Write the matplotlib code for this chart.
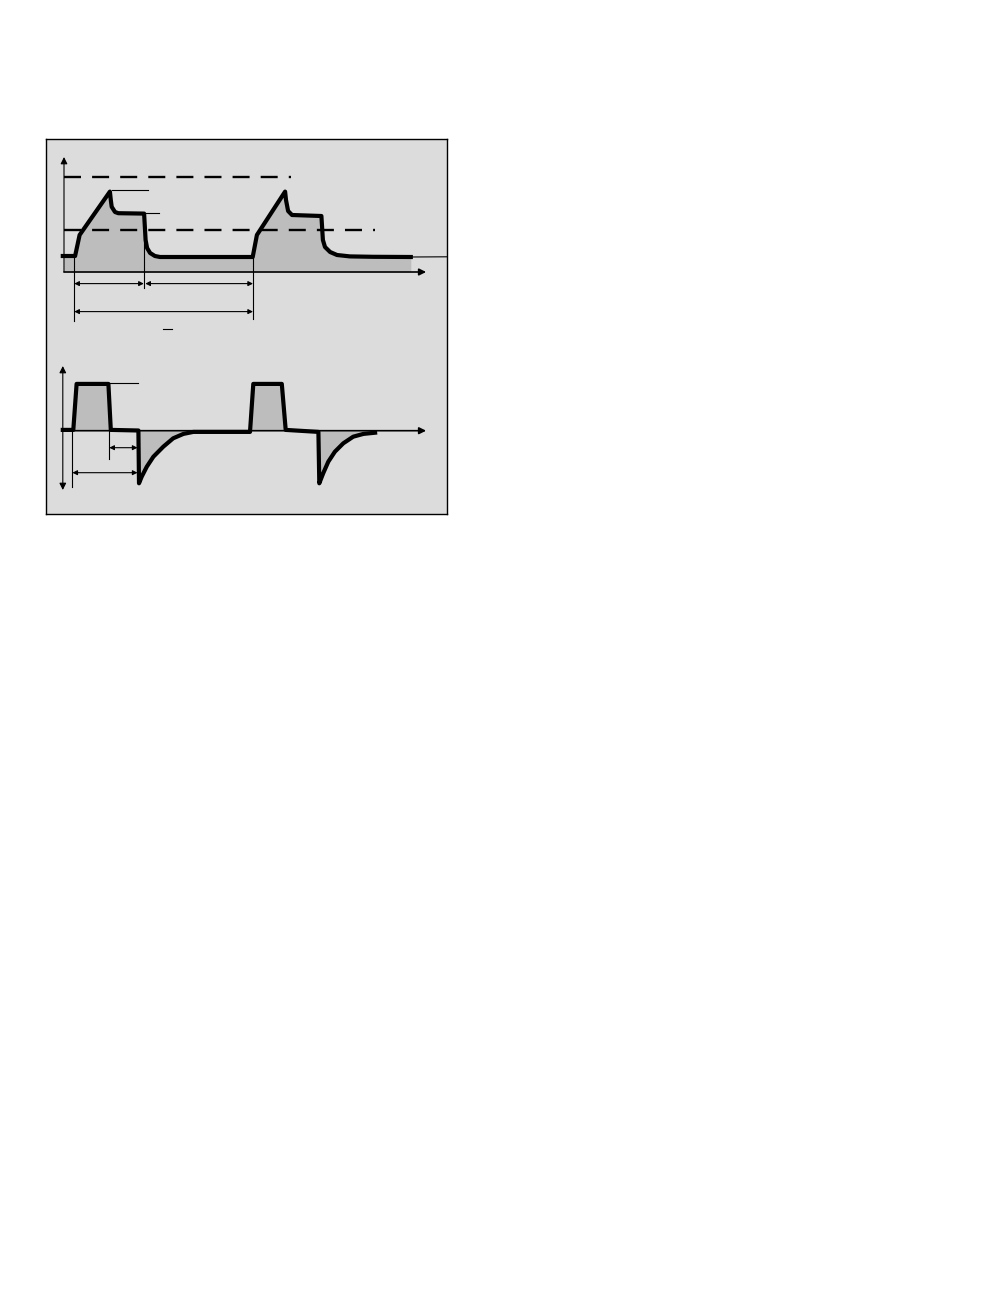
import matplotlib
matplotlib.use("Agg")
import matplotlib.pyplot as plt

# --- curva de presion (tiempo, presion) ---
t_pres = [-0.04, 0.37, 0.52, 1.53, 1.56, 1.59, 1.70, 1.81, 2.67, 2.72, 2.77, 2.87, 3.03, 3.20,
          6.29, 6.43, 7.37, 7.40, 7.47, 7.60, 8.58, 8.63, 8.70, 8.87, 9.10, 9.53, 10.30, 11.56]
p_pres = [4.0, 4.0, 9.25, 20.1, 18.0, 16.3, 15.0, 14.7, 14.6, 8.0, 6.0, 4.75, 4.0, 3.75,
          3.75, 9.25, 20.1, 18.0, 15.25, 14.25, 14.0, 8.0, 6.25, 5.0, 4.25, 3.9, 3.8, 3.75]

# --- curva de flujo (tiempo, flujo) ---
t_flujo = [-0.04, 0.31, 0.42, 1.48, 1.56, 2.48, 2.50, 2.59, 2.76, 2.98, 3.31, 3.64, 3.98, 4.31,
           6.20, 6.31, 7.26, 7.39, 8.48, 8.51, 8.64, 8.81, 9.03, 9.31, 9.64, 9.98, 10.37]
f_flujo = [0.2, 0.2, 11.7, 11.7, 0.2, 0.05, -13.15, -11.5, -9.0, -6.5, -4.0, -1.9, -0.8, -0.3,
           -0.3, 11.7, 11.7, 0.2, -0.3, -13.15, -10.65, -7.75, -5.25, -3.15, -1.5, -0.8, -0.5]

# lineas de referencia (presion)
p_alta = 23.75
p_baja = 10.6
t_fin_alta = 7.57
t_fin_baja = 10.37

GRIS_FONDO = '#dcdcdc'
GRIS_AREA = '#bdbdbd'

W, H = 1008, 1296
fig = plt.figure(figsize=(W / 100, H / 100), dpi=100)

def rect(x0, y0, x1, y1):
    # pixeles -> coordenadas de figura
    return [x0 / W, 1 - y1 / H, (x1 - x0) / W, (y1 - y0) / H]

# marco gris
marco = fig.add_axes(rect(46, 139, 447, 514))
marco.set_facecolor(GRIS_FONDO)
marco.set_xticks([]); marco.set_yticks([])
for s in marco.spines.values():
    s.set_linewidth(1.0)
    s.set_color('black')

def flecha(ax, x0, y0, x1, y1, estilo='<|-|>', esc=7, lw=0.8):
    ax.annotate('', xy=(x1, y1), xytext=(x0, y0),
                arrowprops=dict(arrowstyle=estilo, color='black', lw=lw,
                                mutation_scale=esc, shrinkA=0, shrinkB=0),
                annotation_clip=False)

def limpiar(ax):
    ax.set_facecolor('none')
    ax.set_xticks([]); ax.set_yticks([])
    for s in ax.spines.values():
        s.set_visible(False)

# ---------------- panel de presion ----------------
ax1 = fig.add_axes(rect(64, 157, 424, 272))
limpiar(ax1)
ax1.set_xlim(0, 12)
ax1.set_ylim(0, 28.75)

ax1.fill_between([max(t, 0) for t in t_pres], p_pres, 0, color=GRIS_AREA, lw=0, clip_on=False)
ax1.plot(t_pres, p_pres, color='black', lw=3, solid_joinstyle='round', clip_on=False, zorder=5)
ax1.plot([t_pres[-1], 12.77], [p_pres[-1], 3.8], color='black', lw=0.8, clip_on=False)

ax1.plot([0, t_fin_alta], [p_alta, p_alta], color='black', lw=1.7, dashes=(7.2, 4.7), clip_on=False)
ax1.plot([0, t_fin_baja], [p_baja, p_baja], color='black', lw=1.7, dashes=(7.2, 4.7), clip_on=False)

flecha(ax1, 0, 0, 0, 28.75, estilo='-|>', esc=10, lw=0.8)
flecha(ax1, 0, 0, 12.07, 0, estilo='-|>', esc=10, lw=1.2)

# marcas de pico y meseta
ax1.plot([1.59, 2.81], [20.4, 20.4], color='black', lw=0.8, clip_on=False)
ax1.plot([2.70, 3.17], [14.8, 14.8], color='black', lw=0.8, clip_on=False)

# cotas de tiempo
ax1.plot([0.343, 0.343], [4.0, -12.2], color='black', lw=0.8, clip_on=False)
ax1.plot([2.68, 2.68], [14.6, -4.0], color='black', lw=0.8, clip_on=False)
ax1.plot([6.31, 6.31], [3.75, -11.75], color='black', lw=0.8, clip_on=False)
flecha(ax1, 0.343, -2.9, 2.66, -2.9)
flecha(ax1, 2.71, -2.9, 6.30, -2.9)
flecha(ax1, 0.343, -9.9, 6.30, -9.9)
ax1.plot([3.29, 3.59], [-14.25, -14.25], color='black', lw=0.8, clip_on=False)

# ---------------- panel de flujo ----------------
ax2 = fig.add_axes(rect(64, 366, 424, 490))
limpiar(ax2)
ax2.set_xlim(0, 12)
ax2.set_ylim(-14.83, 16.18)

ax2.fill_between([max(t, 0) for t in t_flujo], f_flujo, 0, color=GRIS_AREA, lw=0, clip_on=False)
flecha(ax2, 0, 0, 12.07, 0, estilo='-|>', esc=10, lw=1.2)
ax2.plot(t_flujo, f_flujo, color='black', lw=3, solid_joinstyle='round', clip_on=False, zorder=5)
flecha(ax2, -0.04, -14.83, -0.04, 16.18, estilo='<|-|>', esc=10, lw=0.8)

ax2.plot([1.47, 2.47], [11.85, 11.85], color='black', lw=0.8, clip_on=False)
ax2.plot([0.28, 0.28], [0, -14.0], color='black', lw=0.8, clip_on=False)
ax2.plot([1.51, 1.51], [0, -7.15], color='black', lw=0.8, clip_on=False)
flecha(ax2, 1.51, -4.25, 2.45, -4.25)
flecha(ax2, 0.28, -10.5, 2.45, -10.5)

fig.savefig('out.png', dpi=100, facecolor='white')
